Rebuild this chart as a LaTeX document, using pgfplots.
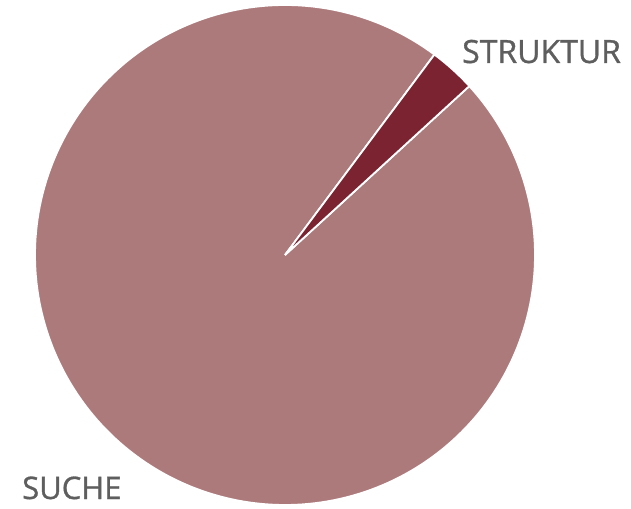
\documentclass[border=0pt]{standalone}
\usepackage{pgfplots}
\usepackage{pgfplotstable}
\pgfplotsset{compat=1.18}
\usepackage{fontspec}
\setmainfont{Open Sans}
\newfontfamily\labelfont[FakeBold=1.0]{Open Sans}
\definecolor{suche}{HTML}{AD7A7C}
\definecolor{struktur}{HTML}{7B2330}
\definecolor{labelgray}{HTML}{5E5E5E}
\pgfplotstableread{
name value
STRUKTUR 3
SUCHE 97
}\piedata
\begin{document}
\begin{tikzpicture}
\pgfplotstablegetelem{0}{value}\of\piedata \pgfmathsetmacro{\va}{\pgfplotsretval}
\pgfplotstablegetelem{1}{value}\of\piedata \pgfmathsetmacro{\vb}{\pgfplotsretval}
\pgfmathsetmacro{\aStart}{42.5}
\pgfmathsetmacro{\aMid}{\aStart+3.6*\va}
\pgfmathsetmacro{\aEnd}{\aMid+3.6*\vb}
\begin{axis}[
  scale only axis, width=631bp, height=509bp,
  xmin=-1.14, xmax=1.384, ymin=-1.016, ymax=1.02,
  hide axis, clip=false,
]
\path[draw=none] (rel axis cs:0,0) rectangle (rel axis cs:1,1);
\addplot[fill=suche, draw=white, line width=1.8bp, domain=\aMid:\aEnd, samples=240, variable=\t]
  ({cos(\t)},{sin(\t)}) -- (axis cs:0,0) -- cycle;
\addplot[fill=struktur, draw=white, line width=1.8bp, domain=\aStart:\aMid, samples=20, variable=\t]
  ({cos(\t)},{sin(\t)}) -- (axis cs:0,0) -- cycle;
\node[anchor=base west, inner sep=0pt, text=labelgray, font=\labelfont\fontsize{32bp}{36bp}\selectfont] at (axis cs:0.708,0.768) {STRUKTUR};
\node[anchor=base west, inner sep=0pt, text=labelgray, font=\labelfont\fontsize{31bp}{36bp}\selectfont] at (axis cs:-1.052,-0.976) {SUCHE};
\end{axis}
\end{tikzpicture}
\end{document}
